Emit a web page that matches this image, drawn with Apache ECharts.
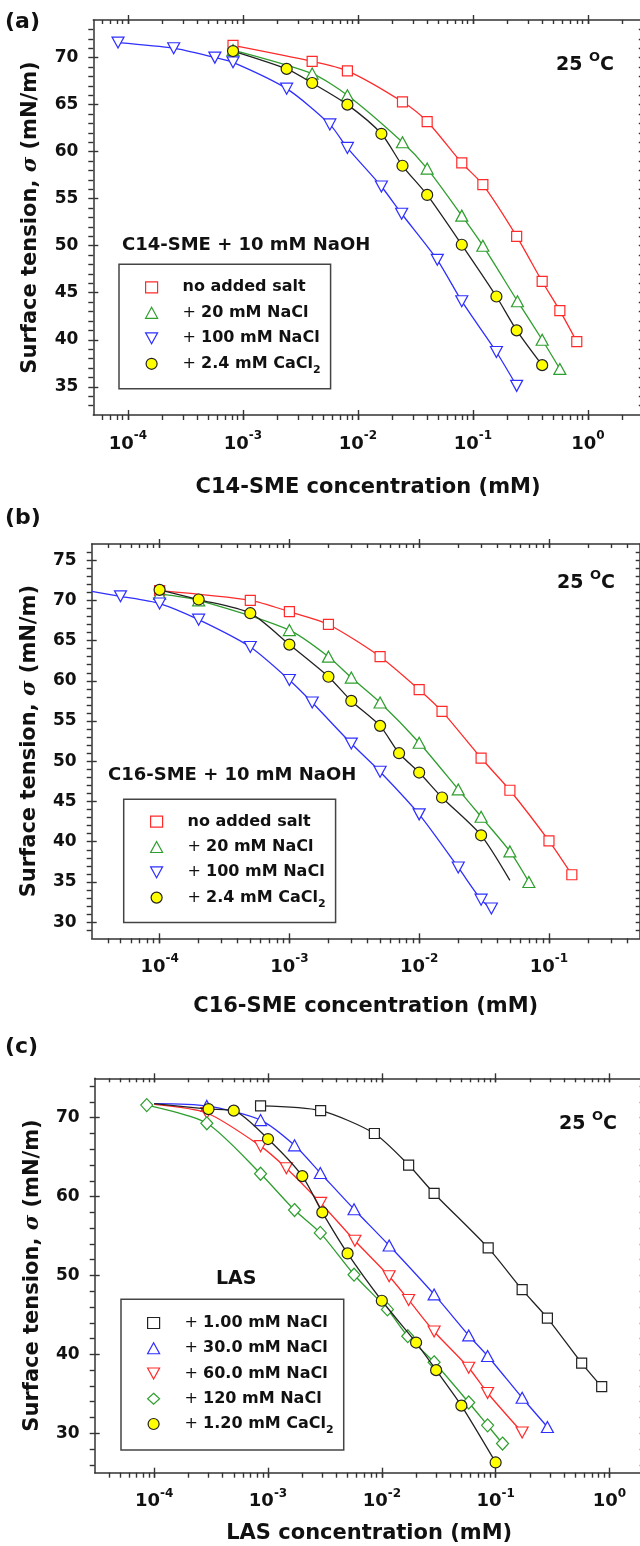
<!DOCTYPE html>
<html><head><meta charset="utf-8">
<script src="https://cdn.jsdelivr.net/npm/echarts@6/dist/echarts.min.js"></script>
<style>html,body{margin:0;padding:0;background:#fff}#c{width:640px;height:1546px}</style>
</head><body><div id="c"></div>
<script>
// ---------- DATA: [concentration (mM), surface tension (mN/m)] ----------
// Panel (a) C14-SME + 10 mM NaOH
const a_noSalt  = [[8.2e-4,71.3],[4.0e-3,69.6],[8.1e-3,68.6],[2.44e-2,65.3],[4.0e-2,63.2],[8.0e-2,58.8],[0.122,56.5],[0.24,51.0],[0.40,46.2],[0.57,43.1],[0.80,39.8]];
const a_nacl20  = [[8.2e-4,70.8],[4.0e-3,68.3],[8.1e-3,66.0],[2.44e-2,61.0],[4.0e-2,58.2],[8.0e-2,53.2],[0.122,50.0],[0.244,44.1],[0.40,40.0],[0.57,36.9]];
const a_nacl100 = [[8.2e-5,71.6],[2.5e-4,71.0],[5.7e-4,70.0],[8.2e-4,69.5],[2.4e-3,66.7],[5.7e-3,62.9],[8.1e-3,60.4],[1.6e-2,56.3],[2.4e-2,53.4],[4.9e-2,48.5],[8.0e-2,44.1],[0.16,38.7],[0.24,35.1]];
const a_cacl2   = [[8.2e-4,70.7],[2.4e-3,68.8],[4.0e-3,67.3],[8.1e-3,65.0],[1.6e-2,61.9],[2.44e-2,58.5],[4.0e-2,55.4],[8.0e-2,50.1],[0.16,44.6],[0.24,41.0],[0.40,37.3]];
// Panel (b) C16-SME + 10 mM NaOH
const b_noSalt  = [[1e-4,71.2],[5e-4,70.0],[1e-3,68.6],[2e-3,67.0],[5e-3,63.0],[1e-2,58.9],[1.5e-2,56.2],[3e-2,50.4],[5e-2,46.4],[0.1,40.1],[0.15,35.9]];
const b_nacl20  = [[1e-4,70.8],[2e-4,70.0],[1e-3,66.3],[2e-3,63.0],[3e-3,60.4],[5e-3,57.3],[1e-2,52.3],[2e-2,46.5],[3e-2,43.1],[5e-2,38.8],[7e-2,35.0]];
const b_nacl100 = [[5e-5,70.5],[1e-4,69.6],[2e-4,67.6],[5e-4,64.2],[1e-3,60.1],[1.5e-3,57.3],[3e-3,52.2],[5e-3,48.7],[1e-2,43.4],[2e-2,36.8],[3e-2,32.8],[3.6e-2,31.7]];
const b_cacl2   = [[1e-4,71.3],[2e-4,70.1],[5e-4,68.4],[1e-3,64.5],[2e-3,60.5],[3e-3,57.5],[5e-3,54.4],[7e-3,51.0],[1e-2,48.6],[1.5e-2,45.5],[3e-2,40.8]];
const b_nacl100_curveStart = [[3e-5,71.1]];
const b_cacl2_curveEnd     = [[5e-2,35.2]];
// Panel (c) LAS
const c_nacl1   = [[8.6e-4,71.5],[2.9e-3,70.9],[8.6e-3,68.0],[1.72e-2,64.0],[2.88e-2,60.4],[8.6e-2,53.5],[0.171,48.2],[0.285,44.6],[0.57,38.9],[0.855,35.9]];
const c_nacl30  = [[2.9e-4,71.5],[8.6e-4,69.7],[1.71e-3,66.5],[2.88e-3,63.0],[5.7e-3,58.4],[1.16e-2,53.8],[2.88e-2,47.6],[5.8e-2,42.4],[8.5e-2,39.8],[0.171,34.5],[0.285,30.8]];
const c_nacl60  = [[2.9e-4,70.6],[8.6e-4,66.4],[1.45e-3,63.6],[2.9e-3,59.2],[5.8e-3,54.4],[1.16e-2,49.9],[1.72e-2,46.9],[2.88e-2,42.9],[5.8e-2,38.3],[8.5e-2,35.1],[0.171,30.1]];
const c_nacl120 = [[8.6e-5,71.6],[2.9e-4,69.3],[8.6e-4,62.9],[1.71e-3,58.3],[2.88e-3,55.4],[5.7e-3,50.1],[1.12e-2,45.7],[1.69e-2,42.3],[2.88e-2,39.0],[5.8e-2,33.9],[8.5e-2,31.0],[0.115,28.7]];
const c_cacl2   = [[3e-4,71.1],[5e-4,70.9],[1e-3,67.3],[2e-3,62.6],[3e-3,58.0],[5e-3,52.8],[1e-2,46.8],[2e-2,41.5],[3e-2,38.0],[5e-2,33.5],[0.1,26.3]];
const c_nacl30_curveStart = [[1e-4,71.8]];
const c_nacl60_curveStart = [[1e-4,71.7]];
const c_cacl2_curveStart  = [[1e-4,71.8]];

// Axis ranges and tick labels
const a_xRange = [5e-5, 3],  a_yRange = [32, 74];
const b_xRange = [3e-5, 0.5], b_yRange = [28, 77];
const c_xRange = [3e-5, 2],  c_yRange = [25, 75];
const a_xTicks = [1e-4, 1e-3, 1e-2, 1e-1, 1];
const b_xTicks = [1e-4, 1e-3, 1e-2, 1e-1];
const c_xTicks = [1e-4, 1e-3, 1e-2, 1e-1, 1];
const a_yTicks = [35, 40, 45, 50, 55, 60, 65, 70];
const b_yTicks = [30, 35, 40, 45, 50, 55, 60, 65, 70, 75];
const c_yTicks = [30, 40, 50, 60, 70];

const a_legend = ['no added salt', '+ 20 mM NaCl', '+ 100 mM NaCl', '+ 2.4 mM CaCl2'];
const c_legend = ['+ 1.00 mM NaCl', '+ 30.0 mM NaCl', '+ 60.0 mM NaCl', '+ 120 mM NaCl', '+ 1.20 mM CaCl2'];

// ---------- STYLE ----------
const FONT = 'DejaVu Sans';
const AX = '#333';
const RED = '#ff2b2b', GREEN = '#2e9e2e', BLUE = '#2f2fff', BLACK = '#222', YELLOW = '#ffff00';
const SYM = {
  square: {symbol: 'rect', size: [10, 10]},
  up:     {symbol: 'triangle', size: [12, 11]},
  down:   {symbol: 'path://M0,0L12,0L6,11Z', size: [12, 11]},
  diamond:{symbol: 'diamond', size: [12, 13]},
  circle: {symbol: 'circle', size: [11, 11]}
};

const L = Math.log10;
function minorTicks(r) {
  const out = [];
  for (let n = Math.floor(L(r[0])) - 1; n <= Math.ceil(L(r[1])); n++)
    for (let k = 1; k <= 9; k++) {
      const v = L(k) + n;
      if (v > L(r[0]) + 1e-6 && v < L(r[1]) - 1e-6) out.push(v);
    }
  return out;
}
function yMinor(r, step) {
  const out = [];
  for (let v = Math.ceil(r[0] / step) * step; v <= r[1]; v += step)
    if (v > r[0] && v < r[1]) out.push(v);
  return out;
}

const option = {
  animation: false, backgroundColor: '#fff',
  grid: [], xAxis: [], yAxis: [], series: [], legend: [], graphic: []
};

const panels = [
  { key: 'a', grid: {left: 93.3, top: 20, width: 549.5, height: 395},
    xr: a_xRange, yr: a_yRange, xt: a_xTicks, yt: a_yTicks, yStep: 1,
    xName: 'C14-SME concentration (mM)', xGap: 62,
    legend: {left: 119, top: 264.3, padding: [11, 10, 13, 26], gap: 1.5},
    series: [
      {name: a_legend[0], data: a_noSalt, sym: 'square', stroke: RED, fill: '#fff'},
      {name: a_legend[1], data: a_nacl20, sym: 'up', stroke: GREEN, fill: '#fff'},
      {name: a_legend[2], data: a_nacl100, sym: 'down', stroke: BLUE, fill: '#fff'},
      {name: a_legend[3], data: a_cacl2, sym: 'circle', stroke: BLACK, fill: YELLOW}
    ]},
  { key: 'b', grid: {left: 91.7, top: 544, width: 548, height: 394.3},
    xr: b_xRange, yr: b_yRange, xt: b_xTicks, yt: b_yTicks, yStep: 1,
    xName: 'C16-SME concentration (mM)', xGap: 58,
    legend: {left: 123.7, top: 799.3, padding: [10.4, 10, 13, 26.3], gap: 1.3},
    series: [
      {name: a_legend[0], data: b_noSalt, sym: 'square', stroke: RED, fill: '#fff'},
      {name: a_legend[1], data: b_nacl20, sym: 'up', stroke: GREEN, fill: '#fff'},
      {name: a_legend[2], data: b_nacl100, sym: 'down', stroke: BLUE, fill: '#fff', start: b_nacl100_curveStart},
      {name: a_legend[3], data: b_cacl2, sym: 'circle', stroke: BLACK, fill: YELLOW, end: b_cacl2_curveEnd}
    ]},
  { key: 'c', grid: {left: 94.7, top: 1078.3, width: 549, height: 394.4},
    xr: c_xRange, yr: c_yRange, xt: c_xTicks, yt: c_yTicks, yStep: 2,
    xName: 'LAS concentration (mM)', xGap: 50,
    legend: {left: 121, top: 1299.3, padding: [11.7, 10, 14, 26], gap: 1.25},
    series: [
      {name: c_legend[0], data: c_nacl1, sym: 'square', stroke: BLACK, fill: '#fff'},
      {name: c_legend[1], data: c_nacl30, sym: 'up', stroke: BLUE, fill: '#fff', start: c_nacl30_curveStart},
      {name: c_legend[2], data: c_nacl60, sym: 'down', stroke: RED, fill: '#fff', start: c_nacl60_curveStart},
      {name: c_legend[3], data: c_nacl120, sym: 'diamond', stroke: GREEN, fill: '#fff'},
      {name: c_legend[4], data: c_cacl2, sym: 'circle', stroke: BLACK, fill: YELLOW, start: c_cacl2_curveStart}
    ]}
];

const tickLine = {color: AX, width: 1.4};
const noSplit = {show: false};

function xLabelFmt(v) { return '{b|10}{s|' + Math.round(v) + '}'; }

panels.forEach((p, gi) => {
  option.grid.push(Object.assign({outerBoundsMode: 'none', containLabel: false}, p.grid));
  const xmin = L(p.xr[0]), xmax = L(p.xr[1]);
  const xMaj = p.xt.map(L);
  const xAll = xMaj.concat(minorTicks(p.xr));
  const xi = option.xAxis.length, yi = option.yAxis.length;
  const baseX = {type: 'value', gridIndex: gi, min: xmin, max: xmax, splitLine: noSplit};
  option.xAxis.push(Object.assign({}, baseX, {
    position: 'bottom',
    axisLine: {show: true, onZero: false, lineStyle: {color: AX, width: 1.5}},
    axisTick: {show: true, inside: false, length: 5, customValues: xAll, lineStyle: tickLine},
    axisLabel: {show: true, customValues: xMaj, margin: 15, formatter: xLabelFmt,
      rich: {b: {fontFamily: FONT, fontWeight: 'bold', fontSize: 18, lineHeight: 28, color: '#111'},
             s: {fontFamily: FONT, fontWeight: 'bold', fontSize: 12, lineHeight: 12, verticalAlign: 'top', color: '#111'}}},
    name: p.xName, nameLocation: 'middle', nameGap: p.xGap,
    nameTextStyle: {fontFamily: FONT, fontWeight: 'bold', fontSize: 21, color: '#111'}
  }));
  option.xAxis.push(Object.assign({}, baseX, {
    position: 'bottom', axisLine: {show: false, onZero: false},
    axisTick: {show: true, inside: true, length: 5, customValues: xMaj, lineStyle: tickLine},
    axisLabel: {show: false}
  }));
  option.xAxis.push(Object.assign({}, baseX, {
    position: 'top', axisLine: {show: true, onZero: false, lineStyle: {color: AX, width: 1.5}},
    axisTick: {show: true, inside: true, length: 4, customValues: xAll, lineStyle: tickLine},
    axisLabel: {show: false}
  }));
  option.xAxis.push(Object.assign({}, baseX, {
    position: 'top', axisLine: {show: false, onZero: false},
    axisTick: {show: true, inside: false, length: 5, customValues: xMaj, lineStyle: tickLine},
    axisLabel: {show: false}
  }));

  const yAll = yMinor(p.yr, p.yStep);
  const baseY = {type: 'value', gridIndex: gi, min: p.yr[0], max: p.yr[1], splitLine: noSplit};
  option.yAxis.push(Object.assign({}, baseY, {
    position: 'left',
    axisLine: {show: true, onZero: false, lineStyle: {color: AX, width: 1.5}},
    axisTick: {show: true, inside: false, length: 5, customValues: yAll, lineStyle: tickLine},
    axisLabel: {show: true, customValues: p.yt, margin: 15, fontFamily: FONT, fontWeight: 'bold', fontSize: 17, color: '#111'},
    name: 'Surface tension, {i|σ} (mN/m)', nameLocation: 'middle', nameGap: 52,
    nameTextStyle: {fontFamily: FONT, fontWeight: 'bold', fontSize: 21, color: '#111',
      rich: {i: {fontFamily: 'DejaVu Serif', fontStyle: 'italic', fontWeight: 'bold', fontSize: 21, color: '#111'}}}
  }));
  option.yAxis.push(Object.assign({}, baseY, {
    position: 'left', axisLine: {show: false, onZero: false},
    axisTick: {show: true, inside: true, length: 5, customValues: p.yt, lineStyle: tickLine},
    axisLabel: {show: false}
  }));
  option.yAxis.push(Object.assign({}, baseY, {
    position: 'right', axisLine: {show: true, onZero: false, lineStyle: {color: AX, width: 1.5}},
    axisTick: {show: true, inside: true, length: 4, customValues: yAll, lineStyle: tickLine},
    axisLabel: {show: false}
  }));

  const legendData = [];
  p.series.forEach((s, si) => {
    const sym = SYM[s.sym];
    const pts = [];
    (s.start || []).forEach(d => pts.push({value: [L(d[0]), d[1]], symbol: 'none'}));
    s.data.forEach(d => pts.push({value: [L(d[0]), d[1]]}));
    (s.end || []).forEach(d => pts.push({value: [L(d[0]), d[1]], symbol: 'none'}));
    const sname = p.key + ':' + s.name;
    option.series.push({
      type: 'line', name: sname, xAxisIndex: xi, yAxisIndex: yi,
      data: pts, smooth: 0.25,
      symbol: sym.symbol, symbolSize: sym.size, showSymbol: true, showAllSymbol: true,
      itemStyle: {color: s.fill, borderColor: s.stroke, borderWidth: 1.2},
      lineStyle: {color: s.stroke, width: 1.3},
      emphasis: {disabled: true}, z: 2 + si
    });
    legendData.push({name: sname, icon: sym.symbol,
      itemStyle: {color: s.fill, borderColor: s.stroke, borderWidth: 1.2}});
  });

  option.legend.push({
    show: true, orient: 'vertical', left: p.legend.left, top: p.legend.top,
    padding: p.legend.padding, itemGap: p.legend.gap, itemWidth: 12, itemHeight: 11,
    borderColor: '#444', borderWidth: 1.5, backgroundColor: '#fff', selectedMode: false,
    data: legendData,
    formatter: function (name) {
      let t = name.slice(2);
      let pre = '{g| }';
      if (t.indexOf('+ ') === 0) { pre += '{p|+ }'; t = t.slice(2); }
      if (/CaCl2$/.test(t)) return pre + '{t|' + t.slice(0, -1) + '}{sub|2}';
      return pre + '{t|' + t + '}';
    },
    textStyle: {fontFamily: FONT, fontWeight: 'bold', fontSize: 16, color: '#111', lineHeight: 24,
      rich: {g: {width: 20, fontSize: 16, lineHeight: 24},
             t: {fontFamily: FONT, fontWeight: 'bold', fontSize: 16, lineHeight: 24, color: '#111'},
             p: {fontFamily: FONT, fontWeight: 'normal', fontSize: 16, lineHeight: 24, color: '#111'},
             sub: {fontFamily: FONT, fontWeight: 'bold', fontSize: 11, lineHeight: 12, verticalAlign: 'bottom', color: '#111'}}}
  });
});

// ---------- TEXT ANNOTATIONS ----------
function txt(x, y, text, size, align) {
  return {type: 'text', x: x, y: y, z: 100,
    style: {text: text, fill: '#111', font: 'bold ' + size + 'px "' + FONT + '"', align: align || 'left', verticalAlign: 'middle'}};
}
function degC(x, y) {
  return {type: 'text', x: x, y: y, z: 100,
    style: {text: '{b|25 }{s|O}{b|C}', align: 'left', verticalAlign: 'middle',
      rich: {b: {fontFamily: FONT, fontWeight: 'bold', fontSize: 19, lineHeight: 28, fill: '#111'},
             s: {fontFamily: FONT, fontWeight: 'bold', fontSize: 13, lineHeight: 13, verticalAlign: 'top', fill: '#111'}}}};
}
option.graphic = [
  txt(5, 22, '(a)', 22), txt(5, 518, '(b)', 22), txt(5, 1047, '(c)', 22),
  degC(556, 65), degC(557, 583), degC(559, 1124),
  txt(122, 245, 'C14-SME + 10 mM NaOH', 18),
  txt(108, 775, 'C16-SME + 10 mM NaOH', 18),
  txt(216, 1279, 'LAS', 19)
];

const chart = echarts.init(document.getElementById('c'), null, {renderer: 'canvas'});
chart.setOption(option);
</script>
</body></html>
